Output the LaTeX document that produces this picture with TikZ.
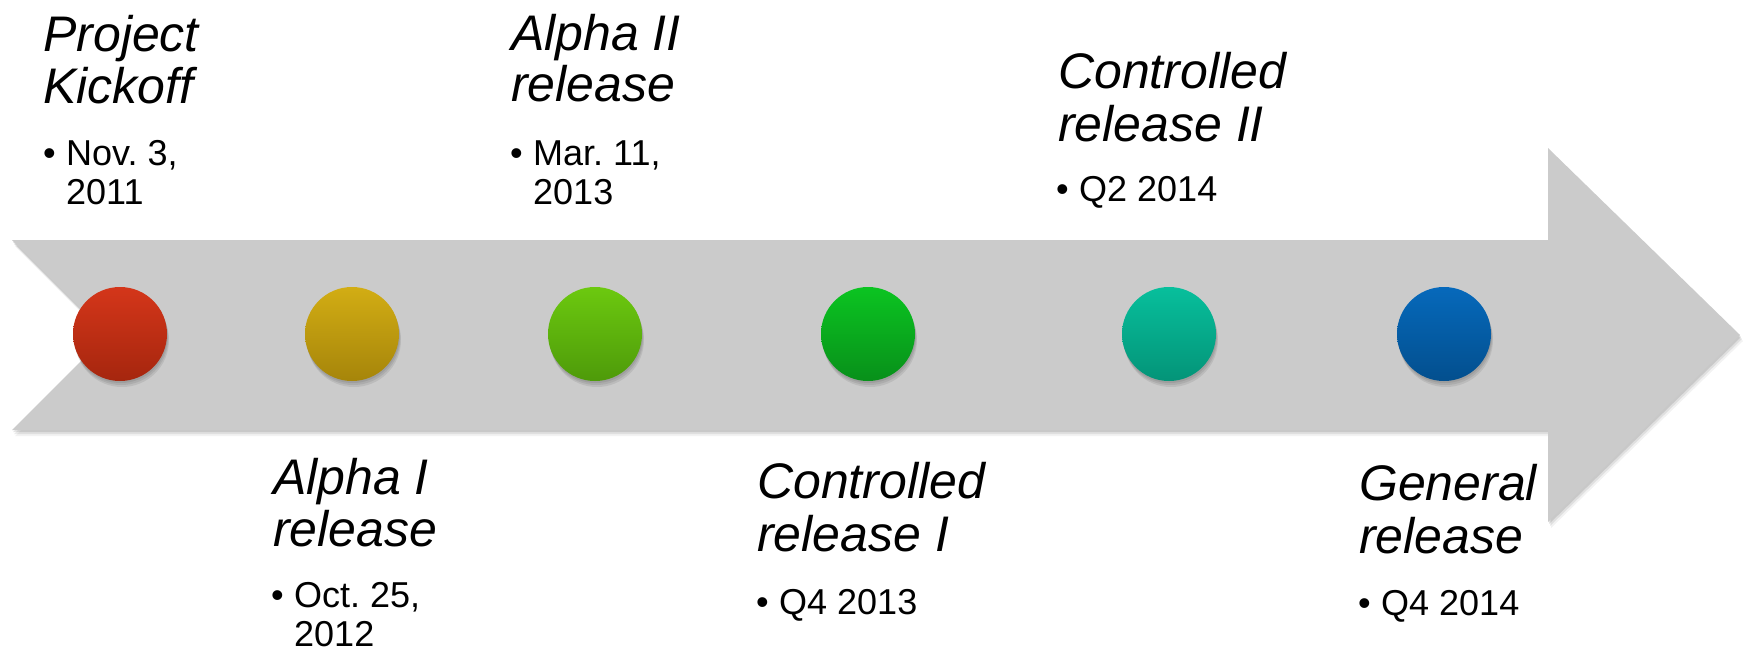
\documentclass[tikz,border=0pt]{standalone}
\usepackage{fontspec}
\setmainfont{Liberation Sans}
\begin{document}
\frenchspacing
\begin{tikzpicture}[x=1pt,y=-1pt,
  ttl/.style={anchor=base west, inner sep=0pt, font=\fontsize{50}{52}\selectfont\itshape},
  btxt/.style={anchor=base west, inner sep=0pt, font=\fontsize{36}{39}\selectfont},
  bul/.style={anchor=base west, inner sep=0pt, font=\fontsize{36}{39}\selectfont},
  dot/.style={circle, minimum size=94pt, inner sep=0pt}
]
\definecolor{arrowgray}{HTML}{CBCBCB}
\definecolor{rt}{HTML}{D4361A}\definecolor{rb}{HTML}{A5260E}
\definecolor{yt}{HTML}{D2AD14}\definecolor{yb}{HTML}{A6850A}
\definecolor{lt}{HTML}{6CC90F}\definecolor{lb}{HTML}{4E9A0A}
\definecolor{gt}{HTML}{0BC421}\definecolor{gb}{HTML}{08901A}
\definecolor{tt}{HTML}{07BF9C}\definecolor{tb}{HTML}{049478}
\definecolor{bt}{HTML}{0669BB}\definecolor{bb}{HTML}{034F8E}
\useasboundingbox (0,0) rectangle (1743,654);
% arrow shadow
\foreach \s/\o in {2/0.10,4/0.08,6/0.05}{
\fill[black, opacity=\o] (12+\s/2,240+\s) -- (1548+\s/2,240+\s) -- (1548+\s/2,148+\s) -- (1740+\s/2,335+\s) -- (1548+\s/2,522+\s) -- (1548+\s/2,430+\s) -- (12+\s/2,430+\s) -- (107+\s/2,335+\s) -- cycle;
}
% arrow
\fill[arrowgray] (12,240) -- (1548,240) -- (1548,148) -- (1740,335) -- (1548,522) -- (1548,430) -- (12,430) -- (107,335) -- cycle;
% circle shadows
\foreach \cx in {120,352,595,868,1169,1444}{
  \foreach \s in {2,4,6}{
    \fill[black, opacity=0.08] (\cx+\s/3,334+\s) circle[radius=47];
  }
}
% circles
\node[dot, top color=rt, bottom color=rb] (c1) at (120,334) {};
\node[dot, top color=yt, bottom color=yb] (c2) at (352,334) {};
\node[dot, top color=lt, bottom color=lb] (c3) at (595,334) {};
\node[dot, top color=gt, bottom color=gb] (c4) at (868,334) {};
\node[dot, top color=tt, bottom color=tb] (c5) at (1169,334) {};
\node[dot, top color=bt, bottom color=bb] (c6) at (1444,334) {};
% Project Kickoff
\node[ttl] (t1a) at (43,51) {Project};
\node[ttl] (t1b) at (43,103) {Kickoff};
\node[bul] (b1) at (43,165) {•};
\node[btxt] (d1a) at (66,165) {Nov. 3,};
\node[btxt] (d1b) at (66,204) {2011};
% Alpha I
\node[ttl] (t2a) at (273,494) {Alpha I};
\node[ttl] (t2b) at (273,546) {release};
\node[bul] (b2) at (271,607) {•};
\node[btxt] (d2a) at (294,607) {Oct. 25,};
\node[btxt] (d2b) at (294,646) {2012};
% Alpha II
\node[ttl] (t3a) at (511,50) {Alpha II};
\node[ttl] (t3b) at (511,101) {release};
\node[bul] (b3) at (510,165) {•};
\node[btxt] (d3a) at (533,165) {Mar. 11,};
\node[btxt] (d3b) at (533,204) {2013};
% Controlled release I
\node[ttl] (t4a) at (757,498) {Controlled};
\node[ttl] (t4b) at (757,551) {release I};
\node[bul] (b4) at (756,614) {•};
\node[btxt] (d4a) at (779,614) {Q4 2013};
% Controlled release II
\node[ttl] (t5a) at (1058,88) {Controlled};
\node[ttl] (t5b) at (1058,141) {release II};
\node[bul] (b5) at (1056,201) {•};
\node[btxt] (d5a) at (1079,201) {Q2 2014};
% General release
\node[ttl] (t6a) at (1359,500) {General};
\node[ttl] (t6b) at (1359,553) {release};
\node[bul] (b6) at (1358,615) {•};
\node[btxt] (d6a) at (1381,615) {Q4 2014};
\end{tikzpicture}
\end{document}
